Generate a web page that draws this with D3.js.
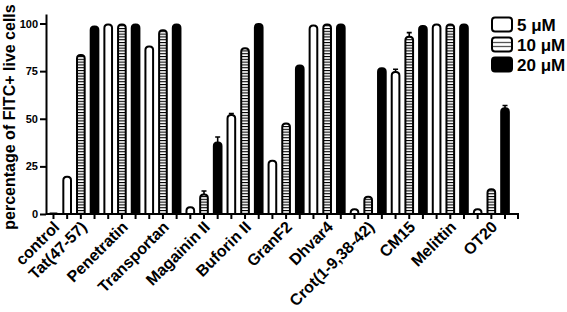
<!DOCTYPE html>
<html>
<head>
<meta charset="utf-8">
<script src="https://cdn.jsdelivr.net/npm/d3@7"></script>
<style>
  body { margin: 0; background: #fff; }
  text { font-family: Arial, "Liberation Sans", sans-serif; font-weight: bold; fill: #000; }
</style>
</head>
<body>
<svg width="567" height="312"></svg>
<script>
// peptides along x, one value per concentration (control only has the 5 uM bar)
var categories = ['control', 'Tat(47-57)', 'Penetratin', 'Transportan', 'Magainin II', 'Buforin II',
                  'GranF2', 'Dhvar4', 'Crot(1-9,38-42)', 'CM15', 'Melittin', 'OT20'];
var concentrations = ['5 \u03bcM', '10 \u03bcM', '20 \u03bcM'];
var yTicks = [0, 25, 50, 75, 100];

var values5  = [0.3, 19.5, 99.5, 88, 3.5, 52, 28, 99, 2.5, 74.5, 99.5, 2.5];
var values10 = [null, 83.5, 99.5, 96.5, 10.3, 87, 47.5, 99.5, 9, 93, 99.5, 13];
var values20 = [null, 98.5, 99.5, 99.5, 37.6, 99.7, 78, 99.5, 76.5, 98.7, 99.5, 55.5];

var err5  = [0, 0, 0, 0, 0, 0.8, 0, 0, 0, 1.5, 0, 0];
var err10 = [0, 0, 0, 0, 1.8, 0, 0, 0, 0, 2.2, 0, 0];
var err20 = [0, 0, 0, 0, 2.8, 0, 0, 0, 0, 0, 0, 1.5];

var svg = d3.select('svg');

var defs = svg.append('defs');
var pat = defs.append('pattern')
    .attr('id', 'stripes')
    .attr('patternUnits', 'userSpaceOnUse')
    .attr('width', 6).attr('height', 2.8);
pat.append('rect').attr('width', 6).attr('height', 2.8).attr('fill', '#fff');
pat.append('rect').attr('width', 6).attr('height', 1.1).attr('fill', '#000');

var fills = ['#fff', 'url(#stripes)', '#000'];

// flatten into a list of bars
var series = [values5, values10, values20];
var errs = [err5, err10, err20];
var bars = [];
var labelIdx = [];
categories.forEach(function(c, i) {
    var start = bars.length;
    series.forEach(function(s, j) {
        if (s[i] == null) return;
        bars.push({cat: c, conc: j, value: s[i], err: errs[j][i]});
    });
    labelIdx.push(Math.floor((start + bars.length - 1) / 2));
});

var x = d3.scaleBand()
    .domain(d3.range(bars.length))
    .range([46.5, 512])
    .paddingInner(0.44)
    .paddingOuter(0.23);

var y = d3.scaleLinear()
    .domain([0, 105])
    .range([214, 14]);

function barPath(d) {
    var x0 = x(d.i), w = x.bandwidth();
    var top = y(d.value), bot = y(0);
    var r = Math.min(3.5, w / 2, Math.max(0, bot - top));
    return 'M' + x0 + ',' + bot + 'V' + (top + r) +
        'Q' + x0 + ',' + top + ' ' + (x0 + r) + ',' + top +
        'H' + (x0 + w - r) +
        'Q' + (x0 + w) + ',' + top + ' ' + (x0 + w) + ',' + (top + r) +
        'V' + bot;
}

bars.forEach(function(d, i) { d.i = i; });

// error bars first so the bar body sits on top of the stem
svg.selectAll('.err')
    .data(bars.filter(function(d) { return d.err > 0; }))
    .enter().append('path')
    .attr('class', 'err')
    .attr('d', function(d) {
        var cx = x(d.i) + x.bandwidth() / 2;
        var t = y(d.value + d.err);
        return 'M' + cx + ',' + y(d.value) + 'V' + t + 'M' + (cx - 2.5) + ',' + t + 'H' + (cx + 2.5);
    })
    .attr('stroke', '#000')
    .attr('stroke-width', 1.6)
    .attr('fill', 'none');

svg.selectAll('.bar')
    .data(bars)
    .enter().append('path')
    .attr('class', 'bar')
    .attr('d', barPath)
    .attr('fill', function(d) { return fills[d.conc]; })
    .attr('stroke', '#000')
    .attr('stroke-width', 2)
    .attr('stroke-linejoin', 'round');

// axes
var yAxis = svg.append('g')
    .attr('transform', 'translate(46,0)')
    .call(d3.axisLeft(y).tickValues(yTicks).tickSize(6).tickSizeOuter(0).tickPadding(2));
yAxis.selectAll('text').style('font-size', '11px');

var xAxis = svg.append('g')
    .attr('transform', 'translate(0,214)')
    .call(d3.axisBottom(x).tickSize(5).tickSizeOuter(0).tickFormat(''));
xAxis.select('.domain').attr('d', 'M46,0H518V5');

svg.selectAll('.domain, .tick line')
    .attr('stroke', '#000')
    .attr('stroke-width', 2);

// rotated category labels
svg.selectAll('.xlabel')
    .data(categories)
    .enter().append('text')
    .attr('class', 'xlabel')
    .attr('text-anchor', 'end')
    .attr('transform', function(d, i) {
        var cx = x(labelIdx[i]) + x.bandwidth() / 2;
        return 'translate(' + (cx + 7) + ',228) rotate(-45)';
    })
    .style('font-size', '16px')
    .text(function(d) { return d; });

svg.append('text')
    .attr('transform', 'translate(14.5,117) rotate(-90)')
    .attr('text-anchor', 'middle')
    .style('font-size', '16px')
    .text('percentage of FITC+ live cells');

// legend
var legend = svg.selectAll('.legend')
    .data(concentrations)
    .enter().append('g')
    .attr('class', 'legend')
    .attr('transform', function(d, i) { return 'translate(492,' + (17.5 + i * 20) + ')'; });

legend.append('rect')
    .attr('width', 20).attr('height', 14).attr('rx', 3)
    .attr('fill', function(d, i) { return i === 2 ? '#000' : '#fff'; })
    .attr('stroke', '#000').attr('stroke-width', 2);

legend.filter(function(d, i) { return i === 1; })
    .selectAll('line')
    .data([5, 9])
    .enter().append('line')
    .attr('x1', 1).attr('x2', 19)
    .attr('y1', function(d) { return d; }).attr('y2', function(d) { return d; })
    .attr('stroke', '#555').attr('stroke-width', 1.3);

legend.append('text')
    .attr('x', 25).attr('y', 13)
    .style('font-size', '17px')
    .text(function(d) { return d; });
</script>
</body>
</html>
